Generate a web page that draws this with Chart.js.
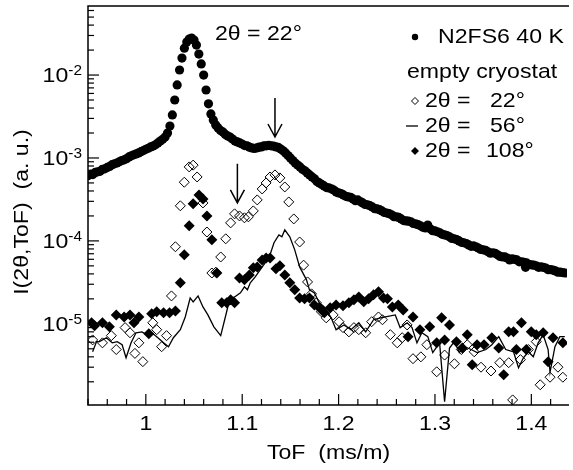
<!DOCTYPE html>
<html><head><meta charset="utf-8">
<script src="https://cdn.jsdelivr.net/npm/chart.js@4/dist/chart.umd.min.js"></script>
<style>html,body{margin:0;padding:0;background:#fff}#wrap{width:573px;height:470px;position:relative}</style>
</head><body><div id="wrap"><canvas id="c" width="573" height="470"></canvas></div>
<script>
// ---------- DATA ----------
const n2X = [0.940,0.9425,0.945,0.9475,0.950,0.9525,0.955,0.9575,0.960,0.9625,0.965,0.9675,0.970,0.9725,0.975,0.9775,0.980,0.9825,0.985,0.9875,0.990,0.9925,0.995,0.9975,1.000,1.0025,1.005,1.0075,1.010,1.0125,1.015,1.0175,1.020,
 1.0225,1.025,1.0275,1.030,1.0325,1.035,1.0375,1.040,1.0425,1.045,1.0475,1.050,1.0525,1.055,1.0575,1.060,1.0625,1.065,1.0675,1.070,1.0725,1.075,
 1.0775,1.080,1.0825,1.085,1.0875,1.090,1.0925,1.095,1.0975,1.100,1.1025,1.105,1.1075,1.110,1.1125,1.115,1.1175,1.120,1.1225,1.125,1.1275,1.130,1.1325,1.135,1.1375,1.140,1.1425,1.145,1.1475,1.150,1.1525,1.155,1.1575,1.160,1.1625,1.165,1.1675,1.170,1.1725,1.175,1.1775,1.180,1.1825,1.185,1.1875,1.190,1.1925,1.195,1.1975,1.200,
 1.2025,1.205,1.2075,1.210,1.2125,1.215,1.2175,1.220,1.2225,1.225,1.2275,1.230,1.2325,1.235,1.2375,1.240,1.2425,1.245,1.2475,1.250,1.2525,1.255,1.2575,1.260,1.2625,1.265,1.2675,1.270,1.2725,1.275,1.2775,1.280,1.2825,1.285,1.2875,1.290,1.2925,1.295,1.2975,1.300,
 1.3025,1.305,1.3075,1.310,1.3125,1.315,1.3175,1.320,1.3225,1.325,1.3275,1.330,1.3325,1.335,1.3375,1.340,1.3425,1.345,1.3475,1.350,1.3525,1.355,1.3575,1.360,1.3625,1.365,1.3675,1.370,1.3725,1.375,1.3775,1.380,1.3825,1.385,1.3875,1.390,1.3925,1.394,1.395,1.3975,1.400,1.4025,1.405,1.4075,1.410,1.4125,1.415,1.4175,1.420,1.4225,1.425,1.4275,1.430,1.4325,1.435];
const n2Y = [6.1e-4,6.4e-4,6.3e-4,6.7e-4,6.8e-4,6.9e-4,7.3e-4,7.4e-4,7.7e-4,7.9e-4,8.3e-4,8.5e-4,8.7e-4,9.0e-4,9.3e-4,9.5e-4,9.8e-4,1.03e-3,1.06e-3,1.09e-3,1.12e-3,1.15e-3,1.19e-3,1.23e-3,1.27e-3,1.31e-3,1.36e-3,1.39e-3,1.44e-3,1.52e-3,1.60e-3,1.68e-3,1.79e-3,
 2.0e-3,2.43e-3,3.3e-3,5.0e-3,7.6e-3,1.15e-2,1.6e-2,2.11e-2,2.5e-2,2.72e-2,2.79e-2,2.64e-2,2.3e-2,1.79e-2,1.36e-2,1.0e-2,6.6e-3,4.5e-3,3.4e-3,2.87e-3,2.5e-3,2.3e-3,
 2.14e-3,2.05e-3,1.92e-3,1.84e-3,1.78e-3,1.69e-3,1.60e-3,1.56e-3,1.52e-3,1.47e-3,1.41e-3,1.40e-3,1.35e-3,1.32e-3,1.30e-3,1.32e-3,1.35e-3,1.36e-3,1.40e-3,1.40e-3,1.42e-3,1.40e-3,1.39e-3,1.36e-3,1.34e-3,1.28e-3,1.22e-3,1.15e-3,1.07e-3,1.0e-3,9.3e-4,8.7e-4,8.2e-4,7.8e-4,7.3e-4,7.0e-4,6.6e-4,6.25e-4,5.9e-4,5.6e-4,5.2e-4,5.0e-4,4.8e-4,4.6e-4,4.4e-4,4.35e-4,4.25e-4,4.1e-4,3.9e-4,3.79e-4,
 3.72e-4,3.58e-4,3.45e-4,3.39e-4,3.35e-4,3.21e-4,3.05e-4,3.12e-4,2.98e-4,2.87e-4,2.75e-4,2.72e-4,2.66e-4,2.57e-4,2.45e-4,2.43e-4,2.38e-4,2.30e-4,2.20e-4,2.17e-4,2.13e-4,2.06e-4,1.96e-4,1.95e-4,1.92e-4,1.84e-4,1.76e-4,1.74e-4,1.73e-4,1.70e-4,1.62e-4,1.60e-4,1.57e-4,1.52e-4,1.46e-4,1.43e-4,1.55e-4,1.40e-4,1.33e-4,1.32e-4,
 1.29e-4,1.25e-4,1.20e-4,1.18e-4,1.16e-4,1.12e-4,1.07e-4,1.06e-4,1.04e-4,1.00e-4,9.6e-5,9.5e-5,9.3e-5,8.95e-5,8.6e-5,8.7e-5,8.5e-5,8.2e-5,7.9e-5,7.8e-5,7.7e-5,7.4e-5,7.1e-5,7.2e-5,7.1e-5,6.8e-5,6.5e-5,6.4e-5,6.4e-5,6.2e-5,5.9e-5,6.07e-5,6.0e-5,5.9e-5,5.6e-5,5.6e-5,5.5e-5,4.8e-5,5.43e-5,5.2e-5,5.14e-5,5.1e-5,5.0e-5,4.8e-5,4.86e-5,4.8e-5,4.7e-5,4.5e-5,4.5e-5,4.45e-5,4.35e-5,4.2e-5,4.2e-5,4.15e-5,4.1e-5];

const c22X = [0.9448,0.955,0.9642,0.9693,0.9785,0.9836,0.9887,0.9928,0.9969,1.0072,1.0113,1.0164,1.0215,1.0266,1.0307,1.0358,1.0399,1.045,1.0491,1.0532,1.0593,1.0634,1.0685,1.0726,1.0777,1.0829,1.088,1.0921,1.0972,1.1023,1.1064,1.1115,1.1156,1.1207,1.1248,1.1289,1.134,1.1391,1.1442,1.1483,1.1535,1.1596,1.1637,1.1678,1.1719,1.177,1.1821,1.1872,1.1944,1.2005,1.2046,1.2107,1.2159,1.221,1.2281,1.2343,1.2414,1.2455,1.2537,1.2609,1.266,1.2711,1.2772,1.2854,1.2916,1.3018,1.31,1.3202,1.3274,1.3335,1.3407,1.3478,1.3581,1.3673,1.3765,1.3806,1.3887,1.3969,1.4051,1.4092,1.4194,1.4276,1.4327];
const c22Y = [6.4e-6,5.9e-6,7.2e-6,4.9e-6,9.0e-6,7.8e-6,4.4e-6,5.9e-6,3.5e-6,1.03e-5,8.5e-6,5.3e-6,7.2e-6,2.17e-5,8.5e-5,2.65e-4,5.1e-4,7.8e-4,8.2e-4,5.9e-4,2.87e-4,1.28e-4,4.1e-5,4.2e-5,6.4e-5,1.06e-4,1.65e-4,2.12e-4,2.0e-4,1.9e-4,1.95e-4,2.3e-4,3.12e-4,4.23e-4,5.0e-4,5.9e-4,6.25e-4,5.75e-4,4.47e-4,2.95e-4,1.84e-4,9.7e-5,5.1e-5,3.2e-5,2.3e-5,1.79e-5,1.4e-5,1.18e-5,1.28e-5,1.06e-5,9.0e-6,8.0e-6,9.0e-6,8.5e-6,7.8e-6,1.06e-5,1.21e-5,1.12e-5,7.4e-6,5.9e-6,6.8e-6,9.7e-6,3.8e-6,4.0e-6,5.6e-6,2.64e-6,4.2e-6,3.3e-6,4.9e-6,5.6e-6,4.6e-6,3.0e-6,2.7e-6,3.4e-6,3.4e-6,1.21e-6,3.7e-6,4.9e-6,6.1e-6,1.84e-6,2.27e-6,3.0e-6,2.27e-6];

const c56X = [0.9448,0.9489,0.9519,0.9591,0.9652,0.9703,0.9754,0.9795,0.9847,0.9898,0.9959,1.001,1.0061,1.0113,1.0184,1.0235,1.0286,1.0358,1.0409,1.046,1.0491,1.0542,1.0593,1.0644,1.0706,1.0777,1.0818,1.0869,1.0921,1.0982,1.1023,1.1054,1.1084,1.1135,1.1186,1.1238,1.1289,1.133,1.1381,1.1412,1.1442,1.1494,1.1545,1.1596,1.1667,1.1698,1.1749,1.18,1.1852,1.1923,1.1974,1.2056,1.2128,1.221,1.2281,1.2363,1.2435,1.2486,1.2588,1.2639,1.2711,1.2762,1.2813,1.2864,1.2926,1.2977,1.3048,1.31,1.3151,1.3202,1.3253,1.3304,1.3376,1.3437,1.3529,1.359,1.3662,1.3734,1.3815,1.3867,1.3918,1.3969,1.402,1.4071,1.4123,1.4174,1.4194,1.4245,1.4296,1.4347];
const c56Y = [4.6e-6,6.1e-6,6.1e-6,6.8e-6,5.9e-6,6.1e-6,5.6e-6,3.9e-6,5.9e-6,7.8e-6,8.0e-6,7.4e-6,7.8e-6,7.0e-6,5.9e-6,5.3e-6,6.8e-6,8.5e-6,1.21e-5,2.05e-5,1.84e-5,2.17e-5,1.6e-5,1.28e-5,9.2e-6,7.2e-6,1.12e-5,1.95e-5,2.11e-5,2.36e-5,2.79e-5,2.57e-5,3.12e-5,3.68e-5,4.47e-5,5.43e-5,6.8e-5,9.5e-5,1.18e-4,1.12e-4,1.36e-4,1.12e-4,7.8e-5,4.86e-5,3.39e-5,2.57e-5,2.36e-5,1.79e-5,1.6e-5,1.18e-5,8.5e-6,9.7e-6,8.5e-6,1.03e-5,8.0e-6,1.12e-5,1.18e-5,1.21e-5,1.28e-5,9.0e-6,1.03e-5,9.0e-6,5.9e-6,7.8e-6,7.0e-6,4.5e-6,5.9e-6,1.15e-6,5.1e-6,6.1e-6,4.5e-6,5.3e-6,4.9e-6,4.5e-6,4.9e-6,5.6e-6,7.0e-6,4.9e-6,4.6e-6,2.95e-6,3.9e-6,4.6e-6,4.0e-6,5.9e-6,7.4e-6,4.9e-6,2.6e-6,5.3e-6,7.0e-6,7.0e-6];

const c108X = [0.9437,0.9468,0.955,0.9622,0.9693,0.9775,0.9836,0.9877,0.9928,1.0031,1.0061,1.0113,1.0184,1.0246,1.0307,1.0358,1.0399,1.045,1.0491,1.0552,1.0593,1.0634,1.0685,1.0737,1.0788,1.0839,1.088,1.0921,1.0972,1.1023,1.1074,1.1115,1.1156,1.1207,1.1248,1.1289,1.135,1.1391,1.1442,1.1494,1.1545,1.1596,1.1647,1.1698,1.1749,1.18,1.1852,1.1913,1.1974,1.2046,1.2107,1.2159,1.221,1.2261,1.2312,1.2363,1.2414,1.2466,1.2507,1.2558,1.2619,1.267,1.2721,1.2772,1.2844,1.2946,1.3018,1.3069,1.31,1.3151,1.3223,1.3284,1.3335,1.3386,1.3437,1.3509,1.359,1.3662,1.3713,1.3765,1.3815,1.3845,1.3897,1.3948,1.3999,1.4051,1.4123,1.4174,1.4225,1.4327];
const c108Y = [1.03e-5,9.5e-6,1.03e-5,9.2e-6,1.28e-5,1.21e-5,1.28e-5,1.03e-5,1.21e-5,7.6e-6,1.32e-5,1.4e-5,1.36e-5,1.36e-5,1.43e-5,3.12e-5,6.8e-5,1.52e-4,2.8e-4,3.58e-4,3.21e-4,2.0e-4,1.03e-4,4.1e-5,1.79e-5,1.79e-5,1.95e-5,1.79e-5,3.58e-5,3.39e-5,3.89e-5,4.73e-5,4.86e-5,5.9e-5,6.24e-5,6.24e-5,4.6e-5,5.0e-5,3.89e-5,3.12e-5,2.57e-5,2.05e-5,2.0e-5,2.05e-5,1.69e-5,1.56e-5,1.36e-5,1.56e-5,1.69e-5,1.65e-5,1.79e-5,1.95e-5,2.11e-5,1.84e-5,2.0e-5,2.24e-5,2.43e-5,2.05e-5,2.0e-5,1.6e-5,1.69e-5,1.47e-5,7.0e-6,1.21e-5,8.5e-6,9.2e-6,5.9e-6,1.18e-5,6.4e-6,9.7e-6,6.1e-6,5.1e-6,7.4e-6,3.2e-6,5.6e-6,5.6e-6,6.8e-6,5.1e-6,2.43e-6,8.0e-6,8.0e-6,4.9e-6,1.03e-5,4.9e-6,8.0e-6,7.4e-6,7.8e-6,3.5e-6,6.8e-6,5.9e-6];

const xTickValues = [1, 1.1, 1.2, 1.3, 1.4];
const xTickLabels = ['1', '1.1', '1.2', '1.3', '1.4'];
const yTickValues = [1e-5, 1e-4, 1e-3, 1e-2];
const yTickExps = ['-5', '-4', '-3', '-2'];
const legendTitle = 'N2FS6 40 K';
const legendGroup = 'empty cryostat';
const legendAngle = '2θ =';
const legendAngles = ['22°', '56°', '108°'];
const annotationText = '2θ = 22°';
const xTitle = 'ToF  (ms/m)';
const yTitle = 'I(2θ,ToF)  (a. u.)';
const arrowX = [1.134, 1.095];
const arrowTop = [5.3e-3, 8.5e-4];
const arrowTip = [1.79e-3, 2.87e-4];

// ---------- CHART ----------
const FONT = '"Liberation Sans", Arial, sans-serif';
const SX = 1.1; // horizontal stretch of the original lettering
function pts(xs, ys){ return xs.map((x,i)=>({x:x, y:ys[i]})); }
function txt(ctx, s, x, y, align, base, size, rot){
  ctx.save();
  ctx.translate(x, y);
  if (rot) ctx.rotate(rot);
  ctx.scale(SX, 1);
  ctx.font = size + 'px ' + FONT;
  ctx.textAlign = align; ctx.textBaseline = base;
  ctx.fillText(s, 0, 0);
  ctx.restore();
}
function tw(ctx, s, size){ ctx.font = size + 'px ' + FONT; return ctx.measureText(s).width * SX; }

const decor = {
  id: 'decor',
  afterDraw(chart){
    const ctx = chart.ctx, a = chart.chartArea;
    const xs = chart.scales.x, ys = chart.scales.y;
    ctx.save();
    ctx.strokeStyle = '#000'; ctx.fillStyle = '#000';
    // frame
    ctx.lineWidth = 1.5;
    ctx.beginPath();
    ctx.moveTo(a.right + 2, a.top); ctx.lineTo(a.left, a.top); ctx.lineTo(a.left, a.bottom); ctx.lineTo(a.right + 2, a.bottom);
    ctx.stroke();
    // x ticks (inward)
    ctx.lineWidth = 1.2;
    for (let k = 47; k <= 72; k++) {
      const px = xs.getPixelForValue(k * 0.02);
      if (px < a.left - 0.5 || px > a.right) continue;
      const major = (k % 5 === 0);
      ctx.beginPath(); ctx.moveTo(px, a.bottom); ctx.lineTo(px, a.bottom - (major ? 11 : 6)); ctx.stroke();
    }
    // y ticks (inward)
    for (let e = -6; e <= -1; e++) {
      for (let m = 1; m <= 9; m++) {
        const py = ys.getPixelForValue(m * Math.pow(10, e));
        if (py < a.top || py > a.bottom) continue;
        ctx.beginPath(); ctx.moveTo(a.left, py); ctx.lineTo(a.left + (m === 1 ? 11 : 6), py); ctx.stroke();
      }
    }
    // x tick labels
    xTickValues.forEach((v,i)=>{ txt(ctx, xTickLabels[i], xs.getPixelForValue(v), a.bottom + 19, 'center', 'middle', 21); });
    // y tick labels with superscript
    yTickValues.forEach((v,i)=>{
      const py = ys.getPixelForValue(v);
      const w2 = tw(ctx, yTickExps[i], 14), w1 = tw(ctx, '10', 21);
      const right = a.left - 6;
      txt(ctx, '10', right - w2 - w1, py + 1, 'left', 'middle', 21);
      txt(ctx, yTickExps[i], right - w2, py, 'left', 'alphabetic', 14);
    });
    // axis titles
    txt(ctx, xTitle, (a.left + a.right)/2 + 1, 453, 'center', 'middle', 21);
    txt(ctx, yTitle, 22, 212, 'center', 'middle', 21, -Math.PI/2);
    // annotation
    txt(ctx, annotationText, 215, 34, 'left', 'middle', 21);
    // arrows
    ctx.lineWidth = 1.5;
    arrowX.forEach((xv,i)=>{
      const px = xs.getPixelForValue(xv), y0 = ys.getPixelForValue(arrowTop[i]), y1 = ys.getPixelForValue(arrowTip[i]);
      ctx.beginPath(); ctx.moveTo(px, y0); ctx.lineTo(px, y1);
      ctx.moveTo(px - 7, y1 - 13); ctx.lineTo(px, y1); ctx.lineTo(px + 7, y1 - 13); ctx.stroke();
    });
    // legend
    ctx.beginPath(); ctx.arc(415, 37, 3.2, 0, Math.PI*2); ctx.fill();
    txt(ctx, legendTitle, 438, 37, 'left', 'middle', 21);
    txt(ctx, legendGroup, 407, 72, 'left', 'middle', 21);
    const rows = [101, 126, 151];
    const numX = [490, 490, 486];
    rows.forEach((ry, i)=>{
      txt(ctx, legendAngle, 425, ry, 'left', 'middle', 21);
      txt(ctx, legendAngles[i], numX[i], ry, 'left', 'middle', 21);
    });
    ctx.lineWidth = 1;
    ctx.beginPath(); ctx.moveTo(415, 97.5); ctx.lineTo(418.5, 101); ctx.lineTo(415, 104.5); ctx.lineTo(411.5, 101); ctx.closePath(); ctx.stroke();
    ctx.lineWidth = 1.3;
    ctx.beginPath(); ctx.moveTo(406, 126); ctx.lineTo(418, 126); ctx.stroke();
    ctx.beginPath(); ctx.moveTo(415, 147); ctx.lineTo(419, 151); ctx.lineTo(415, 155); ctx.lineTo(411, 151); ctx.closePath(); ctx.fill();
    ctx.restore();
  }
};

new Chart(document.getElementById('c'), {
  type: 'scatter',
  data: {
    datasets: [
      { label: 'N2FS6 40 K', data: pts(n2X, n2Y), pointStyle: 'circle', pointRadius: 4.6, backgroundColor: '#000', borderWidth: 0, showLine: false, order: 4 },
      { label: '2θ = 22°', data: pts(c22X, c22Y), pointStyle: 'rectRot', pointRadius: 5, backgroundColor: 'rgba(0,0,0,0)', borderColor: '#000', borderWidth: 1, showLine: false, order: 3 },
      { label: '2θ = 56°', data: pts(c56X, c56Y), showLine: true, pointRadius: 0, borderColor: '#000', borderWidth: 1.3, tension: 0, order: 2 },
      { label: '2θ = 108°', data: pts(c108X, c108Y), pointStyle: 'rectRot', pointRadius: 5.5, backgroundColor: '#000', borderWidth: 0, showLine: false, order: 1 }
    ]
  },
  options: {
    responsive: false, animation: false, devicePixelRatio: 1,
    layout: { padding: { top: 6, right: 0, left: 0, bottom: 0 } },
    plugins: { legend: { display: false }, tooltip: { enabled: false } },
    scales: {
      x: { type: 'linear', min: 0.94, max: 1.437, grid: { display: false }, border: { display: false }, ticks: { display: false }, afterFit: s => { s.height = 65; } },
      y: { type: 'logarithmic', min: 1.05e-6, max: 0.068, grid: { display: false }, border: { display: false }, ticks: { display: false }, afterFit: s => { s.width = 88; } }
    }
  },
  plugins: [decor]
});
</script></body></html>
